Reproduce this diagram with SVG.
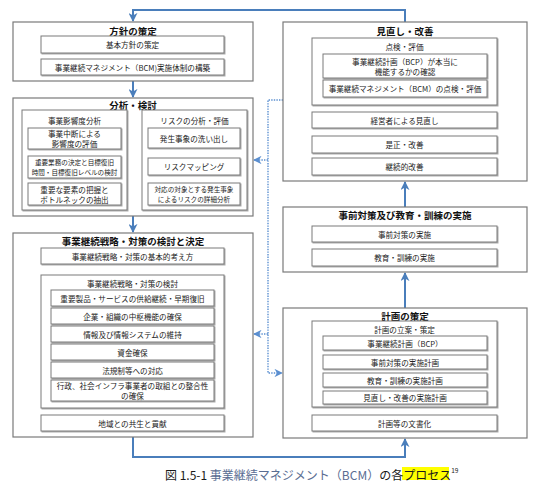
<svg xmlns="http://www.w3.org/2000/svg" width="542" height="492" viewBox="0 0 542 492">
<defs>
<style>
text{font-family:"Noto Sans CJK JP","Liberation Sans",sans-serif;fill:#222;text-anchor:middle;dominant-baseline:central}
.t{font-size:9.5px;font-weight:bold;fill:#111}
.s{font-size:7.6px}
.x{font-size:6.6px}
.o{fill:#fff;stroke:#7a7a7a;stroke-width:1.2}
.i{fill:#fff;stroke:#7a7a7a;stroke-width:1;filter:url(#sh)}
.c{fill:none;stroke:#4a7ebb;stroke-width:2}
.d{fill:none;stroke:#5b8fd0;stroke-width:1.4;stroke-dasharray:1.4 1.2}
.cap{text-anchor:start;font-size:12px;fill:#1a1a1a}
</style>
<filter id="sh" x="-5%" y="-10%" width="110%" height="130%">
<feDropShadow dx="1" dy="1" stdDeviation="0.2" flood-color="#aaa"/>
</filter>
<marker id="ah" viewBox="0 0 10 10" refX="9" refY="5" markerWidth="4.5" markerHeight="4.5" orient="auto-start-reverse" markerUnits="strokeWidth">
<path d="M0,0 L10,5 L0,10 L3,5 z" fill="#4a7ebb"/>
</marker>
<marker id="dh" viewBox="0 0 10 10" refX="9" refY="5" markerWidth="6" markerHeight="6" orient="auto" markerUnits="strokeWidth">
<path d="M0,0 L10,5 L0,10 L3,5 z" fill="#5b8fd0"/>
</marker>
</defs>
<rect width="542" height="492" fill="#fff"/>

<g id="connectors">
<path class="c" d="M405,22 V10 H133 V21" marker-end="url(#ah)"/>
<path class="c" d="M133,81 V97" marker-end="url(#ah)"/>
<path class="c" d="M128,163 H141" marker-start="url(#ah)" marker-end="url(#ah)"/>
<path class="c" d="M133,216 V232" marker-end="url(#ah)"/>
<path class="c" d="M133,437 V457 H405 V439" marker-end="url(#ah)"/>
<path class="c" d="M405,308 V273" marker-end="url(#ah)"/>
<path class="c" d="M405,207 V182" marker-end="url(#ah)"/>
<path class="d" d="M283,100 H268 V373 H282" marker-end="url(#dh)"/>
<path class="d" d="M268,160 H254" marker-end="url(#dh)"/>
<path class="d" d="M268,334 H254" marker-end="url(#dh)"/>
</g>

<g id="policy">
<rect class="o" x="13" y="22" width="240" height="59"/>
<text class="t" x="133" y="31">方針の策定</text>
<rect class="i" x="41" y="36" width="183" height="17"/>
<text class="s" x="132.5" y="44.5">基本方針の策定</text>
<rect class="i" x="41" y="59" width="183" height="16"/>
<text class="s" x="132.5" y="67">事業継続マネジメント（BCM)実施体制の構築</text>
</g>

<g id="analysis">
<rect class="o" x="13" y="98" width="240" height="118"/>
<text class="t" x="133" y="105">分析・検討</text>
<g id="bia">
<rect class="i" x="22" y="110" width="105" height="100"/>
<text class="s" x="74.5" y="120">事業影響度分析</text>
<rect class="i" x="28" y="128" width="93" height="21"/>
<text class="s" x="74.5" y="133.5">事業中断による</text>
<text class="s" x="74.5" y="143.5">影響度の評価</text>
<rect class="i" x="28" y="156" width="93" height="22"/>
<text class="x" x="74.5" y="162">重要業務の決定と目標復旧</text>
<text class="x" x="74.5" y="172">時間・目標復旧レベルの検討</text>
<rect class="i" x="28" y="183" width="93" height="22"/>
<text class="s" x="74.5" y="189">重要な要素の把握と</text>
<text class="s" x="74.5" y="199">ボトルネックの抽出</text>
</g>
<g id="risk">
<rect class="i" x="142" y="110" width="105" height="100"/>
<text class="s" x="194.5" y="120">リスクの分析・評価</text>
<rect class="i" x="148" y="128" width="92" height="20"/>
<text class="s" x="194" y="138">発生事象の洗い出し</text>
<rect class="i" x="148" y="158" width="92" height="17"/>
<text class="s" x="194" y="166.5">リスクマッピング</text>
<rect class="i" x="148" y="183" width="92" height="22"/>
<text class="x" x="194" y="189">対応の対象とする発生事象</text>
<text class="x" x="194" y="199">によるリスクの詳細分析</text>
</g>
</g>

<g id="strategy">
<rect class="o" x="13" y="233" width="240" height="204"/>
<text class="t" x="133" y="241">事業継続戦略・対策の検討と決定</text>
<rect class="i" x="41" y="248" width="183" height="16"/>
<text class="s" x="132.5" y="256">事業継続戦略・対策の基本的考え方</text>
<g id="measures">
<rect class="i" x="41" y="275" width="183" height="133"/>
<text class="s" x="132.5" y="283">事業継続戦略・対策の検討</text>
<rect class="i" x="51" y="290" width="163" height="16"/>
<text class="s" x="132.5" y="298">重要製品・サービスの供給継続・早期復旧</text>
<rect class="i" x="51" y="308" width="163" height="16"/>
<text class="s" x="132.5" y="316">企業・組織の中枢機能の確保</text>
<rect class="i" x="51" y="326" width="163" height="16"/>
<text class="s" x="132.5" y="334">情報及び情報システムの維持</text>
<rect class="i" x="51" y="344" width="163" height="16"/>
<text class="s" x="132.5" y="352">資金確保</text>
<rect class="i" x="51" y="362" width="163" height="16"/>
<text class="s" x="132.5" y="370">法規制等への対応</text>
<rect class="i" x="51" y="380" width="163" height="21"/>
<text class="s" x="132.5" y="385.5">行政、社会インフラ事業者の取組との整合性</text>
<text class="s" x="132.5" y="395.5">の確保</text>
</g>
<rect class="i" x="41" y="415" width="183" height="16"/>
<text class="s" x="132.5" y="423">地域との共生と貢献</text>
</g>

<g id="review">
<rect class="o" x="283" y="22" width="244" height="159"/>
<text class="t" x="405" y="31">見直し・改善</text>
<g id="check">
<rect class="i" x="312" y="38" width="185" height="67"/>
<text class="s" x="404.5" y="46">点検・評価</text>
<rect class="i" x="323" y="54" width="164" height="24"/>
<text class="s" x="405" y="61">事業継続計画（BCP）が本当に</text>
<text class="s" x="405" y="71">機能するかの確認</text>
<rect class="i" x="323" y="80" width="164" height="17"/>
<text class="s" x="405" y="88.5">事業継続マネジメント（BCM）の点検・評価</text>
</g>
<rect class="i" x="312" y="112" width="185" height="16"/>
<text class="s" x="404.5" y="120">経営者による見直し</text>
<rect class="i" x="312" y="136" width="185" height="17"/>
<text class="s" x="404.5" y="144.5">是正・改善</text>
<rect class="i" x="312" y="158" width="185" height="17"/>
<text class="s" x="404.5" y="166.5">継続的改善</text>
</g>

<g id="implementation">
<rect class="o" x="283" y="207" width="244" height="65"/>
<text class="t" x="405" y="215">事前対策及び教育・訓練の実施</text>
<rect class="i" x="312" y="226" width="185" height="16"/>
<text class="s" x="404.5" y="234">事前対策の実施</text>
<rect class="i" x="312" y="249" width="185" height="17"/>
<text class="s" x="404.5" y="257.5">教育・訓練の実施</text>
</g>

<g id="planning">
<rect class="o" x="283" y="308" width="244" height="130"/>
<text class="t" x="405" y="316">計画の策定</text>
<g id="plan-items">
<rect class="i" x="312" y="321" width="185" height="86"/>
<text class="s" x="404.5" y="329">計画の立案・策定</text>
<rect class="i" x="323" y="336" width="164" height="14"/>
<text class="s" x="405" y="343">事業継続計画（BCP）</text>
<rect class="i" x="323" y="355" width="164" height="14"/>
<text class="s" x="405" y="362">事前対策の実施計画</text>
<rect class="i" x="323" y="373" width="164" height="14"/>
<text class="s" x="405" y="380">教育・訓練の実施計画</text>
<rect class="i" x="323" y="391" width="164" height="13"/>
<text class="s" x="405" y="397.5">見直し・改善の実施計画</text>
</g>
<rect class="i" x="312" y="415" width="185" height="16"/>
<text class="s" x="404.5" y="423">計画等の文書化</text>
</g>

<g id="caption">
<rect x="402" y="467" width="47" height="13" fill="#ffff00"/>
<text class="cap" x="165" y="474">図 1.5-1 <tspan fill="#5a6d92">事業継続マネジメント（BCM）</tspan>の各プロセス<tspan font-size="6.5" dy="-4">19</tspan></text>
</g>
</svg>
